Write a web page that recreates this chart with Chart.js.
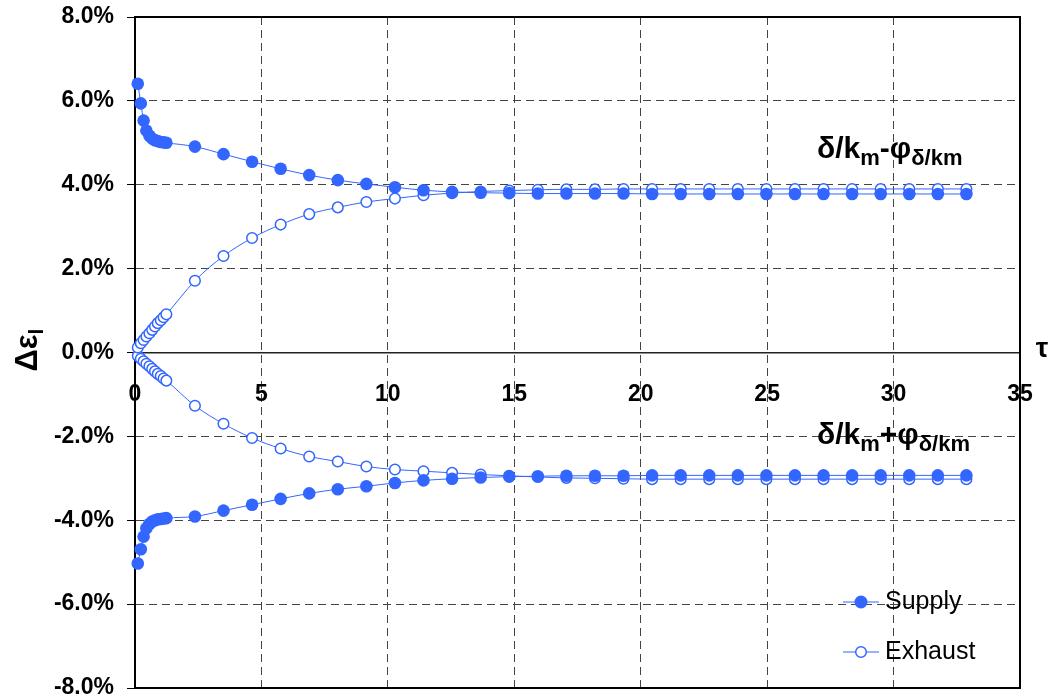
<!DOCTYPE html>
<html>
<head>
<meta charset="utf-8">
<script src="https://cdn.jsdelivr.net/npm/chart.js@4.4.0/dist/chart.umd.min.js"></script>
<style>
  html, body { margin: 0; padding: 0; background: #fff; }
  #wrap { width: 1058px; height: 700px; }
</style>
</head>
<body>
<div id="wrap"><canvas id="chart" width="1058" height="700"></canvas></div>
<script>
// dimensionless time tau (x values shared by all four curves)
const tau = [0.11, 0.23, 0.34, 0.45, 0.57, 0.68, 0.79, 0.90, 1.02, 1.13, 1.24,
  2.37, 3.50, 4.63, 5.76, 6.89, 8.02, 9.15, 10.28, 11.41, 12.54, 13.67, 14.80,
  15.93, 17.06, 18.19, 19.32, 20.45, 21.58, 22.71, 23.84, 24.97, 26.10, 27.23,
  28.36, 29.49, 30.62, 31.75, 32.88];

// delta epsilon in percent
const supplyUpper = [6.41, 5.94, 5.53, 5.29, 5.17, 5.10, 5.06, 5.04, 5.02, 5.01, 5.00,
  4.91, 4.73, 4.55, 4.38, 4.23, 4.11, 4.02, 3.94, 3.87, 3.83, 3.81, 3.80,
  3.79, 3.79, 3.79, 3.79, 3.78, 3.78, 3.78, 3.78, 3.78, 3.78, 3.78,
  3.78, 3.78, 3.78, 3.78, 3.78];
const exhaustUpper = [0.12, 0.22, 0.30, 0.38, 0.46, 0.54, 0.62, 0.70, 0.77, 0.84, 0.91,
  1.71, 2.30, 2.73, 3.05, 3.30, 3.46, 3.59, 3.67, 3.75, 3.80, 3.84, 3.86,
  3.88, 3.89, 3.89, 3.90, 3.90, 3.90, 3.90, 3.90, 3.90, 3.90, 3.90,
  3.90, 3.90, 3.90, 3.90, 3.90];
const supplyLower = [-5.03, -4.69, -4.39, -4.19, -4.09, -4.03, -4.00, -3.98, -3.97, -3.96, -3.95,
  -3.91, -3.77, -3.63, -3.49, -3.36, -3.26, -3.19, -3.11, -3.05, -3.01, -2.98, -2.96,
  -2.95, -2.94, -2.94, -2.94, -2.93, -2.93, -2.93, -2.93, -2.93, -2.93, -2.93,
  -2.93, -2.93, -2.93, -2.93, -2.93];
const exhaustLower = [-0.08, -0.15, -0.21, -0.27, -0.33, -0.39, -0.45, -0.51, -0.56, -0.62, -0.67,
  -1.27, -1.70, -2.04, -2.29, -2.48, -2.60, -2.72, -2.79, -2.83, -2.87, -2.91, -2.94,
  -2.97, -2.99, -3.00, -3.01, -3.02, -3.02, -3.02, -3.02, -3.02, -3.02, -3.02,
  -3.02, -3.02, -3.02, -3.02, -3.02];

// axis ticks
const xTicks = [0, 5, 10, 15, 20, 25, 30, 35];
const yTicks = [-8, -6, -4, -2, 0, 2, 4, 6, 8];

const seriesNames = ['Supply', 'Exhaust'];

const FONT = '"Liberation Sans", Arial, sans-serif';
const BLUE = '#3366ff';

function toPoints(ys) {
  return tau.map((t, i) => ({ x: t, y: ys[i] }));
}

// filled markers for supply, open markers for exhaust
function supplySet(ys) {
  return {
    label: seriesNames[0],
    data: toPoints(ys),
    borderColor: BLUE,
    borderWidth: 1,
    backgroundColor: BLUE,
    pointRadius: 6.3,
    pointBorderWidth: 0,
    pointBackgroundColor: BLUE,
    cubicInterpolationMode: 'monotone',
    clip: false,
    order: 0
  };
}

function exhaustSet(ys) {
  return {
    label: seriesNames[1],
    data: toPoints(ys),
    borderColor: BLUE,
    borderWidth: 1,
    backgroundColor: '#fff',
    pointRadius: 5.3,
    pointBorderWidth: 1.5,
    pointBorderColor: BLUE,
    pointBackgroundColor: '#fff',
    cubicInterpolationMode: 'monotone',
    clip: false,
    order: 1
  };
}

// write text made of pieces with different sizes / baseline shifts
function richText(ctx, x, y, parts, measureOnly) {
  let w = 0;
  parts.forEach(p => {
    ctx.font = `bold ${p.size}px ${FONT}`;
    if (!measureOnly) ctx.fillText(p.text, x + w, y + (p.dy || 0));
    w += ctx.measureText(p.text).width;
  });
  return w;
}

// frame, titles, curve labels and legend
const decorations = {
  id: 'decorations',
  afterDraw(chart) {
    const ctx = chart.ctx;
    const a = chart.chartArea;
    ctx.save();

    // box around plot
    ctx.strokeStyle = '#000';
    ctx.lineWidth = 2;
    ctx.beginPath();
    ctx.moveTo(a.left, a.top);
    ctx.lineTo(a.right, a.top);
    ctx.lineTo(a.right, a.bottom);
    ctx.lineTo(a.left, a.bottom);
    ctx.stroke();

    ctx.fillStyle = '#000';
    ctx.textBaseline = 'alphabetic';
    ctx.textAlign = 'left';

    // curve labels
    const upper = [
      { text: 'δ/k', size: 30 }, { text: 'm', size: 22, dy: 7 },
      { text: '-φ', size: 30 }, { text: 'δ/km', size: 22, dy: 7 }
    ];
    const lower = [
      { text: 'δ/k', size: 30 }, { text: 'm', size: 22, dy: 7 },
      { text: '+φ', size: 30 }, { text: 'δ/km', size: 22, dy: 7 }
    ];
    richText(ctx, 817, 158, upper);
    richText(ctx, 817, 444, lower);

    // tau at the right end of the x axis
    ctx.font = `bold 28px ${FONT}`;
    ctx.textAlign = 'center';
    ctx.textBaseline = 'middle';
    ctx.fillText('τ', 1042, 349);

    // y title, rotated
    const yTitle = [{ text: 'Δε', size: 31 }, { text: 'l', size: 21, dy: 6 }];
    ctx.save();
    ctx.translate(37, 350);
    ctx.rotate(-Math.PI / 2);
    ctx.textAlign = 'left';
    ctx.textBaseline = 'alphabetic';
    const w = richText(ctx, 0, 0, yTitle, true);
    richText(ctx, -w / 2, 0, yTitle);
    ctx.restore();

    // legend
    const rows = [
      { name: seriesNames[0], y: 602, filled: true },
      { name: seriesNames[1], y: 652, filled: false }
    ];
    rows.forEach(r => {
      ctx.strokeStyle = BLUE;
      ctx.lineWidth = 1;
      ctx.beginPath();
      ctx.moveTo(843, r.y);
      ctx.lineTo(879, r.y);
      ctx.stroke();
      ctx.beginPath();
      if (r.filled) {
        ctx.arc(861, r.y, 6.5, 0, Math.PI * 2);
        ctx.fillStyle = BLUE;
        ctx.fill();
      } else {
        ctx.arc(861, r.y, 5.3, 0, Math.PI * 2);
        ctx.fillStyle = '#fff';
        ctx.fill();
        ctx.lineWidth = 1.5;
        ctx.stroke();
      }
      ctx.fillStyle = '#000';
      ctx.font = `25px ${FONT}`;
      ctx.textAlign = 'left';
      ctx.textBaseline = 'middle';
      ctx.fillText(r.name, 885, r.y);
    });

    ctx.restore();
  }
};

// drop the label overhang so the plot box sits where the padding says
function noOverhang(s) {
  s.paddingTop = 0;
  s.paddingBottom = 0;
  s.paddingLeft = 0;
  s.paddingRight = 0;
}

function buildChart() {
  const ctx = document.getElementById('chart');

  new Chart(ctx, {
    type: 'line',
    data: {
      datasets: [
        supplySet(supplyUpper),
        supplySet(supplyLower),
        exhaustSet(exhaustUpper),
        exhaustSet(exhaustLower)
      ]
    },
    options: {
      responsive: false,
      animation: false,
      layout: { padding: { top: 17, right: 38, bottom: 12, left: 0 } },
      plugins: {
        legend: { display: false },
        tooltip: { enabled: false }
      },
      scales: {
        x: {
          type: 'linear',
          position: { y: 0 },
          min: xTicks[0],
          max: xTicks[xTicks.length - 1],
          afterBuildTicks: (s) => { s.ticks = xTicks.map(v => ({ value: v })); },
          afterFit: noOverhang,
          ticks: {
            autoSkip: false,
            maxRotation: 0,
            color: '#000',
            padding: 28,
            font: { family: FONT, size: 23, weight: 'bold' }
          },
          grid: { color: '#444', lineWidth: 1, drawTicks: false },
          border: { color: '#222', width: 1.5, dash: [8, 5] }
        },
        y: {
          type: 'linear',
          min: yTicks[0],
          max: yTicks[yTicks.length - 1],
          afterBuildTicks: (s) => { s.ticks = yTicks.map(v => ({ value: v })); },
          afterFit: (s) => { s.width = 135; noOverhang(s); },
          ticks: {
            color: '#000',
            padding: 13,
            font: { family: FONT, size: 23, weight: 'bold' },
            callback: (v) => v.toFixed(1) + '%'
          },
          grid: {
            color: '#444',
            lineWidth: 1,
            tickLength: 8,
            tickColor: '#000',
            tickBorderDash: []
          },
          border: { color: '#000', width: 2, dash: [8, 5] }
        }
      }
    },
    plugins: [decorations]
  });
}

document.addEventListener('DOMContentLoaded', buildChart);
</script>
</body>
</html>
